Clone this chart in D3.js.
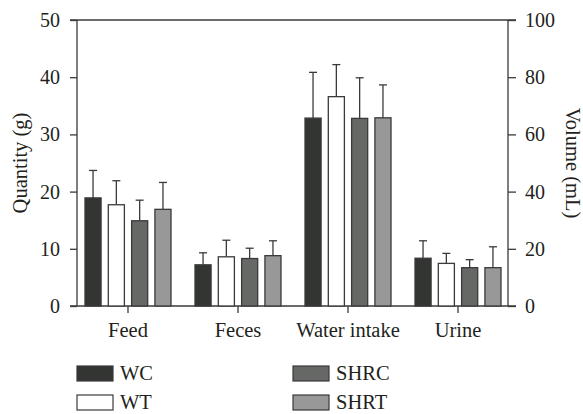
<!DOCTYPE html>
<html>
<head>
<meta charset="utf-8">
<script src="https://cdn.jsdelivr.net/npm/d3@7/dist/d3.min.js"></script>
<style>
  html, body { margin: 0; padding: 0; background: #fff; }
  svg { display: block; }
  text { font-family: "Liberation Serif", "DejaVu Serif", serif; fill: #231f20; }
</style>
</head>
<body>
<svg id="chart" width="583" height="414"></svg>
<script>
// Categories and groups
const categories = ["Feed", "Feces", "Water intake", "Urine"];
const groups = ["WC", "WT", "SHRC", "SHRT"];
// Which axis each category is measured on (left: g, right: mL)
const axisOf = ["left", "left", "right", "right"];

// Means per group, in category order
const meanWC   = [18.9, 7.2, 65.7, 16.7];
const meanWT   = [17.7, 8.6, 73.2, 14.9];
const meanSHRC = [14.9, 8.3, 65.6, 13.4];
const meanSHRT = [16.9, 8.8, 65.8, 13.4];
// Upper error (mean + SD) per group
const upperWC   = [23.7, 9.3, 81.7, 22.8];
const upperWT   = [21.9, 11.5, 84.4, 18.4];
const upperSHRC = [18.5, 10.1, 79.8, 16.2];
const upperSHRT = [21.6, 11.4, 77.3, 20.7];

const leftTicks = [0, 10, 20, 30, 40, 50];
const rightTicks = [0, 20, 40, 60, 80, 100];

const fills = { WC: "#333533", WT: "#ffffff", SHRC: "#666866", SHRT: "#989898" };
const ink = "#3a3a3a";

const means = { WC: meanWC, WT: meanWT, SHRC: meanSHRC, SHRT: meanSHRT };
const uppers = { WC: upperWC, WT: upperWT, SHRC: upperSHRC, SHRT: upperSHRT };

const svg = d3.select("#chart");
const plot = { left: 77, right: 508, top: 20, bottom: 306 };

const yL = d3.scaleLinear().domain([0, 50]).range([plot.bottom, plot.top]);
const yR = d3.scaleLinear().domain([0, 100]).range([plot.bottom, plot.top]);
const x0 = d3.scaleBand().domain(categories).range([73, 513]).paddingInner(0);
const x1 = d3.scaleBand().domain(groups).range([-43, 43]).paddingInner(0.31).paddingOuter(0);

const tickSize = 20;
const labelSize = 20.5;

// Left axis
const gL = svg.append("g").attr("transform", `translate(${plot.left},0)`)
  .call(d3.axisLeft(yL).tickValues(leftTicks).tickSize(7).tickPadding(10).tickFormat(d3.format("d")));
// Right axis
const gR = svg.append("g").attr("transform", `translate(${plot.right},0)`)
  .call(d3.axisRight(yR).tickValues(rightTicks).tickSize(8).tickPadding(9).tickFormat(d3.format("d")));
// Bottom axis
const gB = svg.append("g").attr("transform", `translate(0,${plot.bottom})`)
  .call(d3.axisBottom(x0).tickSize(7).tickPadding(9));

[gL, gR, gB].forEach(g => {
  g.selectAll("path.domain").attr("stroke", ink).attr("stroke-width", 1.3);
  g.selectAll(".tick line").attr("stroke", ink).attr("stroke-width", 1.3);
  g.selectAll(".tick text").style("font-family", "'Liberation Serif', serif").attr("fill", "#231f20");
});
gL.selectAll(".tick text").style("font-size", tickSize + "px");
gR.selectAll(".tick text").style("font-size", tickSize + "px");
gB.selectAll(".tick text").style("font-size", labelSize + "px");
gB.select("path.domain").attr("d", `M${plot.left - 7},0H${plot.right + 8}`);
gL.select("path.domain").attr("d", `M0,${plot.bottom}V${plot.top}`);
gR.select("path.domain").attr("d", `M0,${plot.bottom}V${plot.top}`);
// Top frame line, continuous with the outer ticks at 50 / 100
svg.append("line")
  .attr("x1", plot.left - 7).attr("x2", plot.right + 8)
  .attr("y1", plot.top).attr("y2", plot.top)
  .attr("stroke", ink).attr("stroke-width", 1.3);

// Axis titles
svg.append("text")
  .attr("transform", `translate(27,163) rotate(-90)`)
  .attr("text-anchor", "middle")
  .style("font-size", labelSize + "px")
  .text("Quantity (g)");
svg.append("text")
  .attr("transform", `translate(566,163) rotate(90)`)
  .attr("text-anchor", "middle")
  .style("font-size", labelSize + "px")
  .text("Volume (mL)");

// Bars and error bars
const rows = [];
categories.forEach((c, i) => {
  groups.forEach(g => {
    rows.push({ cat: c, grp: g, mean: means[g][i], upper: uppers[g][i], y: axisOf[i] === "left" ? yL : yR });
  });
});
const cx = d => x0(d.cat) + x0.bandwidth() / 2 + x1(d.grp) + x1.bandwidth() / 2;

const bars = svg.append("g");
const capW = 8;
bars.selectAll("line.err").data(rows).join("line")
  .attr("class", "err")
  .attr("x1", cx).attr("x2", cx)
  .attr("y1", d => d.y(d.mean))
  .attr("y2", d => d.y(d.upper))
  .attr("stroke", ink).attr("stroke-width", 1.3);
bars.selectAll("line.cap").data(rows).join("line")
  .attr("class", "cap")
  .attr("x1", d => cx(d) - capW / 2)
  .attr("x2", d => cx(d) + capW / 2)
  .attr("y1", d => d.y(d.upper))
  .attr("y2", d => d.y(d.upper))
  .attr("stroke", ink).attr("stroke-width", 1.3);
bars.selectAll("rect").data(rows).join("rect")
  .attr("x", d => x0(d.cat) + x0.bandwidth() / 2 + x1(d.grp))
  .attr("width", x1.bandwidth())
  .attr("y", d => d.y(d.mean))
  .attr("height", d => d.y(0) - d.y(d.mean))
  .attr("fill", d => fills[d.grp])
  .attr("stroke", ink).attr("stroke-width", 1.3);

// Legend
const legendPos = [
  { g: "WC", x: 77, y: 366 },
  { g: "WT", x: 77, y: 395 },
  { g: "SHRC", x: 293, y: 366 },
  { g: "SHRT", x: 293, y: 395 }
];
const lg = svg.append("g");
legendPos.forEach(p => {
  lg.append("rect")
    .attr("x", p.x).attr("y", p.y).attr("width", 36).attr("height", 15)
    .attr("fill", fills[p.g]).attr("stroke", ink).attr("stroke-width", 1.2);
  lg.append("text")
    .attr("x", p.x + 43).attr("y", p.y + 14)
    .style("font-size", labelSize + "px")
    .text(p.g);
});
</script>
</body>
</html>
